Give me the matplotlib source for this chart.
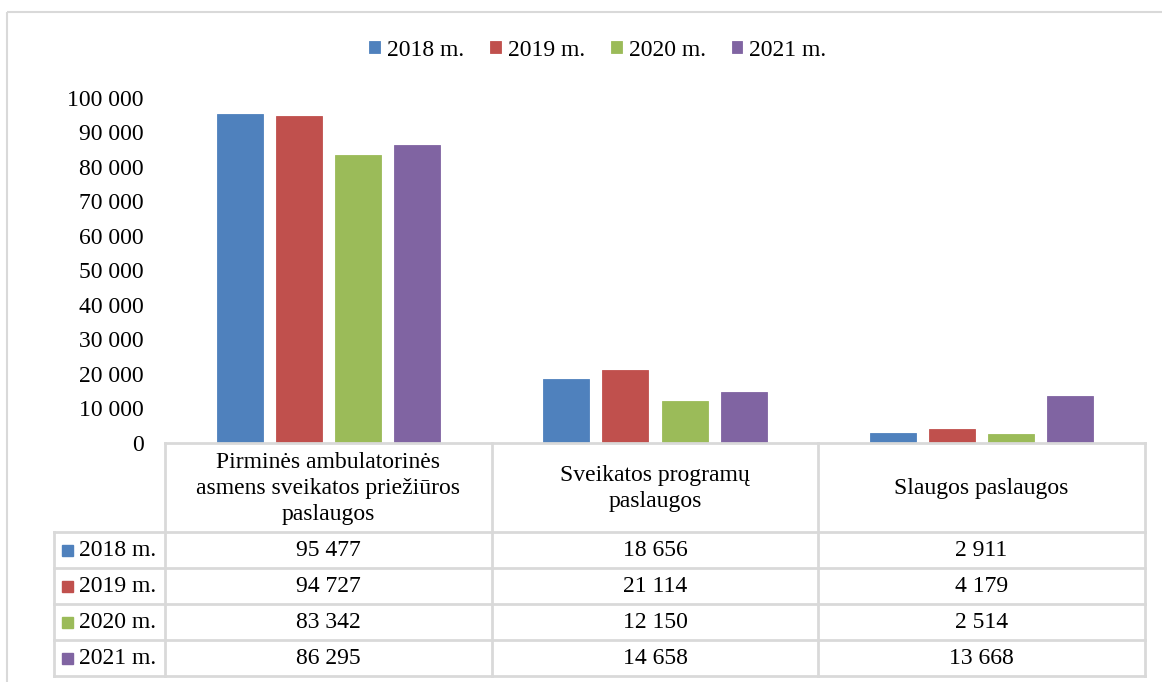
import matplotlib
matplotlib.use('Agg')
import matplotlib.pyplot as plt
from matplotlib.patches import Rectangle
import numpy as np

plt.rcParams['font.family'] = ['Liberation Serif', 'DejaVu Serif']

# Data
categories = ['Pirminės ambulatorinės\nasmens sveikatos priežiūros\npaslaugos',
              'Sveikatos programų\npaslaugos',
              'Slaugos paslaugos']
years = ['2018 m.', '2019 m.', '2020 m.', '2021 m.']
values_2018 = [95477, 18656, 2911]
values_2019 = [94727, 21114, 4179]
values_2020 = [83342, 12150, 2514]
values_2021 = [86295, 14658, 13668]
series = [values_2018, values_2019, values_2020, values_2021]
colors = ['#4F81BD', '#C0504D', '#9BBB59', '#8064A2']
yticks = np.arange(0, 100001, 10000)


def fmt(v):
    return f'{v:,}'.replace(',', ' ')


W, H = 1162, 682
FS = 17
GRID = '#D9D9D9'

fig = plt.figure(figsize=(W / 100, H / 100), dpi=100)

# Layout (pixels)
col_edges = [165, 492, 818, 1145]
label_left = 54
plot_top, plot_bottom = 98, 443
row_edges = [443, 532, 568, 604, 640, 676]

# Bar chart
ax = fig.add_axes([col_edges[0] / W, 1 - plot_bottom / H,
                   (col_edges[-1] - col_edges[0]) / W, (plot_bottom - plot_top) / H])
x = np.arange(len(categories))
step, width = 0.181, 0.141
bars = []
for i, (vals, c, yr) in enumerate(zip(series, colors, years)):
    b = ax.bar(x + (i - 1.5) * step, vals, width, color=c, label=yr,
               edgecolor=c, linewidth=0.6)
    bars.append(b)
ax.set_xlim(-0.5, len(categories) - 0.5)
ax.set_ylim(0, 100000)
ax.set_yticks(yticks)
ax.set_yticklabels([fmt(v) for v in yticks], fontsize=FS)
ax.tick_params(axis='y', length=0, pad=15.5)
ax.set_xticks([])
for s in ax.spines.values():
    s.set_visible(False)
ax.patch.set_alpha(0)

# Legend
fig.legend(handles=bars, labels=years, loc='center',
           bbox_to_anchor=(598 / W, 1 - 50 / H), ncol=4, frameon=False,
           fontsize=FS, handlelength=0.45, handleheight=0.45,
           handletextpad=0.3, columnspacing=1.1)

# Data table drawn in pixel space
tab = fig.add_axes([0, 0, 1, 1])
tab.set_xlim(0, W)
tab.set_ylim(H, 0)
tab.axis('off')

# outer frame
tab.add_patch(Rectangle((7, 12), W + 10, H + 10, fill=False,
                        edgecolor=GRID, linewidth=1.5))

lw = 2.0
# header row lines
tab.plot([col_edges[0], col_edges[-1]], [row_edges[0], row_edges[0]], color=GRID, lw=lw)
for xe in col_edges:
    tab.plot([xe, xe], [row_edges[0], row_edges[-1]], color=GRID, lw=lw)
for ye in row_edges[1:]:
    tab.plot([label_left, col_edges[-1]], [ye, ye], color=GRID, lw=lw)
tab.plot([label_left, label_left], [row_edges[1], row_edges[-1]], color=GRID, lw=lw)

# header text
for j, cat in enumerate(categories):
    cx = (col_edges[j] + col_edges[j + 1]) / 2
    cy = (row_edges[0] + row_edges[1]) / 2 + 1
    tab.text(cx, cy, cat, ha='center', va='center', fontsize=FS, linespacing=1.3)

# rows
for i, (vals, c, yr) in enumerate(zip(series, colors, years)):
    cy = (row_edges[i + 1] + row_edges[i + 2]) / 2
    tab.add_patch(Rectangle((62, cy - 5.5), 11, 11, color=c))
    tab.text(79, cy + 1, yr, ha='left', va='center', fontsize=FS)
    for j, v in enumerate(vals):
        cx = (col_edges[j] + col_edges[j + 1]) / 2
        tab.text(cx, cy + 1, fmt(v), ha='center', va='center', fontsize=FS)

fig.savefig('out.png', dpi=100)
plt.close(fig)
